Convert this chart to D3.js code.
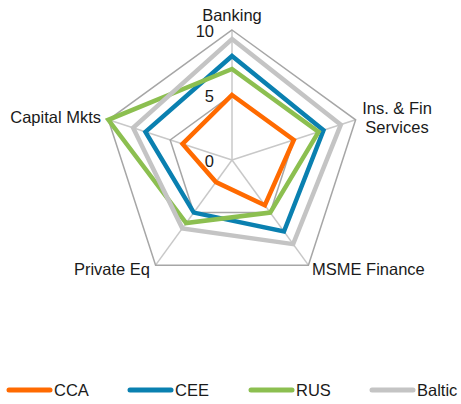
<!DOCTYPE html>
<html>
<head>
<meta charset="utf-8">
<script src="https://cdn.jsdelivr.net/npm/d3@7"></script>
<style>
  body { margin: 0; background: #fff; }
  text { font-family: "Liberation Sans", Arial, sans-serif; fill: #1a1a1a; }
</style>
</head>
<body>
<div class="radar"></div>
<script>
const axes = ["Banking", "Ins. & Fin Services", "MSME Finance", "Private Eq", "Capital Mkts"];
const seriesNames = ["CCA", "CEE", "RUS", "Baltic"];
const cca = [5, 5, 4.3, 2.1, 4];
const cee = [8, 7.4, 6.8, 5, 7];
const rus = [7, 7, 5, 6, 10];
const baltic = [9.3, 8.8, 8, 6.5, 8];
const ticks = [0, 5, 10];

const colors = {CCA: "#ff6a00", CEE: "#0a80b0", RUS: "#8cbf50", Baltic: "#c4c4c4"};

function renderRadar() {
	const width = 461;
	const height = 404;
	const cx = 232, cy = 160;
	const svg = d3.select('.radar')
				.append('svg')
				.attr('width', width)
				.attr('height', height);

	const r = d3.scaleLinear().domain([0, 10]).range([0, 130]);
	const angle = d3.scalePoint().domain(axes).range([0, 2 * Math.PI * 4 / 5]);
	const pt = (a, v) => [cx + r(v) * Math.sin(angle(a)), cy - r(v) * Math.cos(angle(a))];

	const g = svg.append("g");

	// spokes
	g.selectAll(".spoke")
		.data(axes)
		.enter()
		.append("line")
		.attr("x1", cx).attr("y1", cy)
		.attr("x2", d => pt(d, 10)[0])
		.attr("y2", d => pt(d, 10)[1])
		.attr("stroke", "#c8c8c8")
		.attr("stroke-width", 1.5);

	// grid pentagons
	g.selectAll(".grid")
		.data(ticks.filter(t => t > 0))
		.enter()
		.append("polygon")
		.attr("points", t => axes.map(a => pt(a, t).join(",")).join(" "))
		.attr("fill", "none")
		.attr("stroke", "#a6a6a6")
		.attr("stroke-width", 1.5);

	// series
	const allData = {CCA: cca, CEE: cee, RUS: rus, Baltic: baltic};
	const line = d3.line().curve(d3.curveLinearClosed);
	g.selectAll(".series")
		.data(seriesNames)
		.enter()
		.append("path")
		.attr("d", s => line(allData[s].map((v, i) => pt(axes[i], v))))
		.attr("fill", "none")
		.attr("stroke", s => colors[s])
		.attr("stroke-width", 4.5)
		.attr("stroke-linejoin", "miter");

	// tick labels
	g.selectAll(".tick")
		.data(ticks)
		.enter()
		.append("text")
		.text(d => d)
		.attr("x", 214)
		.attr("y", d => cy - r(d) + 7)
		.attr("font-size", "16.5px")
		.attr("text-anchor", "end");

	// axis labels
	const labelPos = [
		{lines: ["Banking"], x: 232, y: 21, anchor: "middle"},
		{lines: ["Ins. & Fin", "Services"], x: 397, y: 114, anchor: "middle"},
		{lines: ["MSME Finance"], x: 312, y: 275, anchor: "start"},
		{lines: ["Private Eq"], x: 150, y: 275, anchor: "end"},
		{lines: ["Capital Mkts"], x: 101, y: 123, anchor: "end"}
	];
	labelPos.forEach(l => {
		const t = g.append("text")
			.attr("x", l.x).attr("y", l.y)
			.attr("font-size", "16.5px")
			.attr("text-anchor", l.anchor);
		l.lines.forEach((s, i) => {
			t.append("tspan").attr("x", l.x).attr("dy", i === 0 ? 0 : 19).text(s);
		});
	});

	// legend
	const lx = d3.scaleLinear().domain([0, 3]).range([9, 372]);
	const legend = svg.selectAll(".legend")
		.data(seriesNames)
		.enter()
		.append("g")
		.attr("transform", (d, i) => `translate(${lx(i)},390)`);
	legend.append("line")
		.attr("x1", 0).attr("x2", 41)
		.attr("y1", 0).attr("y2", 0)
		.attr("stroke", d => colors[d])
		.attr("stroke-width", 5)
		.attr("stroke-linecap", "round");
	legend.append("text")
		.text(d => d)
		.attr("x", 45)
		.attr("y", 6)
		.attr("font-size", "16.5px");
}

renderRadar();
</script>
</body>
</html>
